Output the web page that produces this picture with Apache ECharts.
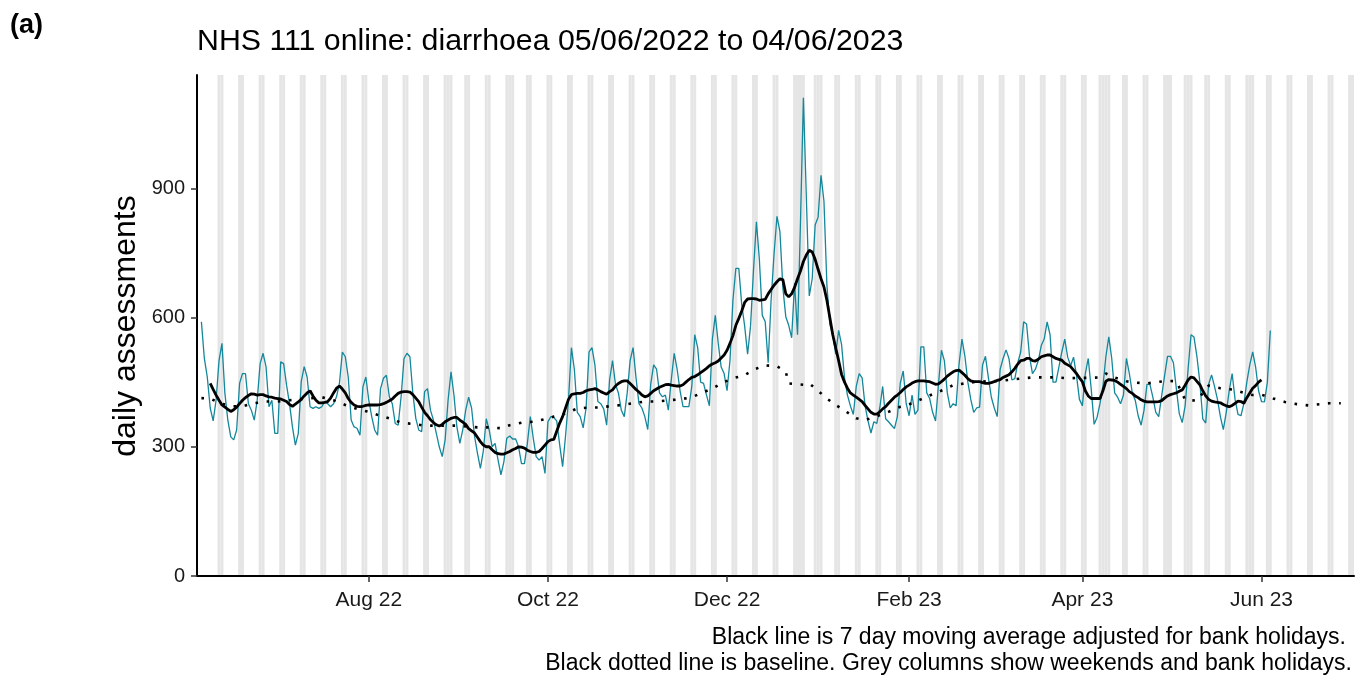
<!DOCTYPE html>
<html>
<head>
<meta charset="utf-8">
<script src="https://cdn.jsdelivr.net/npm/echarts@6/dist/echarts.min.js"></script>
<style>
html,body{margin:0;padding:0;background:#fff;}
#chart{width:1357px;height:676px;}
</style>
</head>
<body>
<div id="chart"></div>
<script>
// ---- data ----
const axisStart = '2022-06-04';   // first day on the x axis
const axisEnd = '2023-07-02';     // last day on the x axis
const dataStart = '2022-06-05';   // first day of daily assessments
const maStart = '2022-06-08';     // first day of the 7 day moving average
const shadeStart = '2022-06-06';  // first day shaded

const dailyAssessments = [
590,505,462,390,360,408,500,540,424,362,
323,316,339,447,470,470,400,385,362,408,
493,517,486,393,408,331,331,497,493,443,
400,346,304,331,451,486,462,393,389,393,
389,393,405,400,393,400,416,447,520,509,
462,362,346,343,327,439,462,408,370,339,
327,435,459,466,416,400,354,350,416,505,
517,509,424,366,339,335,428,435,385,362,
331,300,277,316,408,474,420,346,308,339,
385,415,390,325,285,250,290,365,339,300,
308,270,235,265,320,325,318,318,300,261,
261,308,370,320,277,269,277,238,358,370,
368,360,305,254,325,408,530,480,380,370,
344,390,520,530,490,405,400,388,350,455,
500,445,425,385,370,425,500,530,460,400,
390,370,340,445,490,480,425,416,420,385,
455,517,480,430,393,393,393,440,560,530,
450,447,420,395,550,605,540,485,470,430,
500,640,714,714,630,580,515,580,709,822,
735,605,590,495,640,747,835,800,670,602,
582,553,680,560,820,1110,880,650,690,815,
833,930,870,676,585,560,515,570,537,460,
420,395,375,440,470,460,395,360,332,358,
354,390,440,365,358,350,342,370,448,476,
400,372,420,375,385,532,532,425,412,380,
360,445,524,500,425,390,400,395,492,550,
510,450,410,380,390,392,490,510,460,415,
390,370,480,505,525,505,455,458,495,520,
590,585,510,470,480,500,535,550,590,560,
450,450,485,520,550,508,488,508,465,410,
395,470,505,435,352,368,400,440,509,555,
505,425,415,400,420,505,470,425,408,372,
350,385,445,445,415,380,370,418,465,510,
510,495,435,377,356,395,480,560,555,510,
450,365,355,445,467,440,410,370,340,380,
430,470,410,375,372,400,450,490,520,485,
430,405,404,450,570
];

const movingAverage = [
447,433,420,408,397,392,387,382,386,392,
400,408,414,419,423,422,420,421,421,418,
416,415,413,412,411,408,405,398,394,399,
404,410,418,425,430,418,408,402,402,403,
405,413,425,436,441,434,425,412,403,397,
394,393,394,396,397,397,397,397,398,400,
403,407,411,418,424,427,428,428,427,421,
413,405,392,380,372,363,356,351,348,352,
358,362,366,368,368,362,357,352,342,337,
332,322,312,304,300,300,293,287,284,283,
283,286,289,293,296,300,299,297,292,289,
287,287,289,296,304,312,316,317,336,355,
370,390,410,421,423,424,424,426,430,432,
433,435,432,428,425,422,428,432,441,447,
451,453,453,447,440,433,427,420,416,418,
424,430,434,438,441,444,445,443,442,441,
441,444,450,456,461,463,467,472,477,482,
488,492,495,499,506,513,524,540,558,582,
598,615,635,643,644,644,643,640,641,642,
655,665,675,683,690,688,655,648,655,670,
690,708,730,745,756,752,735,712,690,671,
640,600,560,530,500,468,450,436,425,420,
415,410,405,396,388,380,376,376,381,388,
393,401,408,415,420,426,433,439,443,448,
451,453,453,453,452,451,448,445,446,451,
457,464,469,474,477,478,472,466,458,453,
451,451,451,449,447,447,449,451,454,456,
461,464,467,474,482,492,500,501,505,505,
500,499,503,509,511,513,513,509,505,503,
501,494,490,486,478,470,460,451,430,418,
412,412,412,412,430,452,456,455,454,450,
445,440,435,428,424,418,414,409,406,404,
404,404,404,405,407,413,418,421,423,425,
429,432,443,455,462,460,452,444,430,418,
410,406,404,403,402,398,395,393,396,401,
406,405,401,414,425,436,442,450,455
];

// baseline: day offsets from dataStart and the values read at those days
const baselineDay = [0,3,6,10,14,18,22,26,30,34,41,45,49,53,57,60,64,68,72,76,82,87,94,98,102,105,109,113,117,120,124,128,132,135,139,143,147,151,155,159,163,167,170,174,177,181,185,188,192,196,199,200,202,205,207,210,213,216,219,223,226,230,234,238,242,245,249,253,256,260,264,268,272,276,280,283,287,291,295,299,303,306,308,311,315,318,322,325,329,332,335,339,343,347,351,355,358,361,365,369,373,377,381,384,388];
const baselineValue = [413,412,402,394,394,401,405,405,408,411,415,408,397,388,381,374,366,356,353,349,349,349,345,345,343,350,356,358,364,370,377,389,391,391,394,397,401,405,405,408,410,415,424,435,447,459,466,479,489,487,474,447,446,444,447,430,412,397,384,366,362,371,381,393,401,410,422,433,443,447,451,452,453,456,459,461,461,461,459,460,460,461,470,461,452,449,447,450,453,452,409,407,442,436,433,425,420,421,412,404,399,396,399,401,401];

const bankHolidays = ['2022-06-02','2022-06-03','2022-08-29','2022-09-19','2022-12-26','2022-12-27','2023-01-02','2023-04-07','2023-04-10','2023-05-01','2023-05-08','2023-05-29'];

const tickMonths = ['2022-08-01','2022-10-01','2022-12-01','2023-02-01','2023-04-01','2023-06-01'];
const tickLabels = ['Aug 22','Oct 22','Dec 22','Feb 23','Apr 23','Jun 23'];
const yTicks = [0, 300, 600, 900];
const Y_MAX = 1163;

// ---- build category axis ----
function iso(d){ return d.toISOString().slice(0,10); }
const days = [];
for (let d = new Date(axisStart + 'T00:00:00Z'); iso(d) <= axisEnd; d.setUTCDate(d.getUTCDate()+1)) days.push(iso(d));
const idx = {}; days.forEach((s,i)=>idx[s]=i);
function offsetDate(start, n){ const d = new Date(start + 'T00:00:00Z'); d.setUTCDate(d.getUTCDate()+n); return iso(d); }

const shade = days.map(s => {
  if (s < shadeStart) return '-';
  const wd = new Date(s + 'T00:00:00Z').getUTCDay();
  return (wd === 0 || wd === 6 || bankHolidays.includes(s)) ? Y_MAX : '-';
});
const dailySeries = days.map(()=>'-');
dailyAssessments.forEach((v,i)=>{ dailySeries[idx[offsetDate(dataStart,i)]] = v; });
const maSeries = days.map(()=>'-');
movingAverage.forEach((v,i)=>{ maSeries[idx[offsetDate(maStart,i)]] = v; });
const baseSeries = baselineDay.map((n,i)=>[idx[offsetDate(dataStart,n)], baselineValue[i]]);

const FONT = '"Liberation Sans", Arial, sans-serif';
const chart = echarts.init(document.getElementById('chart'), null, {renderer:'canvas'});
chart.setOption({
  animation: false,
  backgroundColor: '#fff',
  grid: {left: 197, right: 3, top: 75, bottom: 100, containLabel: false},
  xAxis: {
    type: 'category', data: days, boundaryGap: true, z: 10,
    axisLine: {lineStyle: {color: '#000', width: 2}},
    axisTick: {show: true, alignWithLabel: true, length: 6, lineStyle: {color: '#333', width: 1.5},
      interval: (i, v) => tickMonths.includes(v)},
    axisLabel: {interval: (i, v) => tickMonths.includes(v), formatter: v => tickLabels[tickMonths.indexOf(v)] || '',
      fontFamily: FONT, fontSize: 21, color: '#1a1a1a', margin: 14},
    splitLine: {show: false}
  },
  yAxis: {
    type: 'value', min: 0, max: Y_MAX, z: 10,
    axisLine: {show: true, lineStyle: {color: '#000', width: 2}},
    axisTick: {show: true, length: 6, lineStyle: {color: '#333', width: 1.5}, customValues: yTicks},
    axisLabel: {fontFamily: FONT, fontSize: 20, color: '#1a1a1a', margin: 12, customValues: yTicks},
    splitLine: {show: false}
  },
  graphic: [
    {type: 'text', x: 10, y: 26, style: {text: '(a)', font: 'bold 27px ' + FONT, fill: '#000', textVerticalAlign: 'middle'}},
    {type: 'text', x: 197, y: 42, style: {text: 'NHS 111 online: diarrhoea 05/06/2022 to 04/06/2023', font: '30.3px ' + FONT, fill: '#000', textVerticalAlign: 'middle'}},
    {type: 'text', x: 126, y: 326, rotation: Math.PI/2, style: {text: 'daily assessments', font: '32px ' + FONT, fill: '#000', textAlign: 'center', textVerticalAlign: 'middle'}},
    {type: 'text', x: 1346, y: 638, style: {text: 'Black line is 7 day moving average adjusted for bank holidays.', font: '23px ' + FONT, fill: '#000', textAlign: 'right', textVerticalAlign: 'middle'}},
    {type: 'text', x: 1352, y: 664, style: {text: 'Black dotted line is baseline. Grey columns show weekends and bank holidays.', font: '23px ' + FONT, fill: '#000', textAlign: 'right', textVerticalAlign: 'middle'}}
  ],
  series: [
    {type: 'bar', data: shade, barWidth: '100%', barGap: '0%', barCategoryGap: '0%', silent: true,
      itemStyle: {color: '#e5e5e5'}, z: 1},
    {type: 'line', data: dailySeries, showSymbol: false, connectNulls: false,
      lineStyle: {color: '#13879b', width: 1.3}, z: 3},
    {type: 'line', data: baseSeries, showSymbol: false,
      lineStyle: {color: '#000', width: 2.6, type: [2.6, 8.6], cap: 'butt'}, z: 4},
    {type: 'line', data: maSeries, showSymbol: false,
      lineStyle: {color: '#000', width: 2.8}, z: 5}
  ]
});
</script>
</body>
</html>
